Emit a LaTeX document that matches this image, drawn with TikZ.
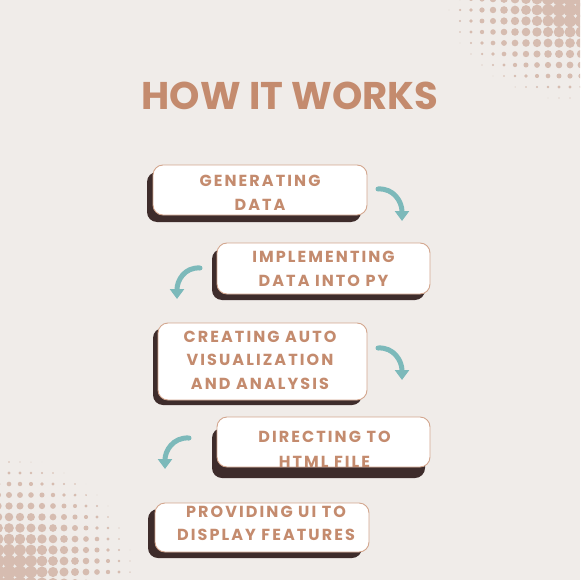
\documentclass[tikz,border=0pt]{standalone}
\usepackage{fontspec}
\setmainfont{Poppins}
\newfontfamily\boxfont[LetterSpace=13]{Poppins}
\usetikzlibrary{shadows,arrows.meta}
\definecolor{bgc}{HTML}{F0ECE9}
\definecolor{dotc}{HTML}{D6BCB0}
\definecolor{txtc}{HTML}{C48B6E}
\definecolor{boxline}{HTML}{D3A68E}
\definecolor{shadowc}{HTML}{3E2C2B}
\definecolor{arrowc}{HTML}{7CB9BA}
\tikzset{
  boxsty/.style 2 args={draw=boxline, line width=0.9pt, fill=white, rounded corners=10pt, inner sep=0pt,
    general shadow={shadow xshift=#1, shadow yshift=#2, fill=shadowc, draw=none}},
  txtsty/.style={text=txtc, font=\boxfont\bfseries\fontsize{16}{23.5}\selectfont, align=center, inner sep=0pt},
  titlesty/.style={text=txtc, font=\bfseries\fontsize{38.6}{42}\selectfont, inner sep=0pt},
  flowarrow/.style={draw=arrowc, line width=5pt, line cap=round, -{Triangle[width=14pt,length=10pt]}}
}
\begin{document}
\begin{tikzpicture}[x=1pt,y=-1pt]
\useasboundingbox (0,0) rectangle (580,580);
\fill[bgc] (0,0) rectangle (580,580);
\begin{scope}
\clip (0,0) rectangle (580,580);
% top-right halftone
\foreach \i in {-1,...,13}{
  \foreach \j in {-1,...,13}{
    \pgfmathsetmacro\tt{1-sqrt(((\i*11+10)/10)^2+(1.3*(\j*11+10)/10)^2)/13.5}
    \ifdim\tt pt>0.01pt
      \pgfmathsetmacro\rr{7.5*(\tt)^0.8}
      \fill[dotc] (570-\i*11,10+\j*11) circle[radius=\rr pt];
    \fi
  }
}
% bottom-left halftone
\foreach \i in {-1,...,13}{
  \foreach \j in {-1,...,13}{
    \pgfmathsetmacro\tt{1-sqrt(((\i*11+9)/10)^2+(1.1*(\j*11+8)/10)^2)/13.8}
    \ifdim\tt pt>0.01pt
      \pgfmathsetmacro\rr{7.5*(\tt)^0.8}
      \fill[dotc] (9+\i*11,572-\j*11) circle[radius=\rr pt];
    \fi
  }
}
\end{scope}

\node[titlesty] (title) at (290,96) {HOW IT WORKS};

\node[boxsty={-6pt}{-7pt}, minimum width=214pt, minimum height=50pt] (b1) at (260,190) {};
\node[boxsty={-5pt}{-6pt}, minimum width=213pt, minimum height=51pt] (b2) at (323.5,268.5) {};
\node[boxsty={-5pt}{-5pt}, minimum width=209pt, minimum height=77pt] (b3) at (262.5,361.5) {};
\node[boxsty={-5pt}{-11pt}, minimum width=213pt, minimum height=50pt] (b4) at (323.5,442) {};
\node[boxsty={-7pt}{-6pt}, minimum width=214pt, minimum height=49pt] (b5) at (262,527.5) {};

\node[txtsty] (t1) at (260,193) {GENERATING\\DATA};
\node[txtsty] (t2) at (323.5,269) {IMPLEMENTING\\DATA INTO PY};
\node[txtsty] (t3) at (260,360) {CREATING AUTO\\VISUALIZATION\\AND ANALYSIS};
\begin{scope}
\clip[rounded corners=10pt] (b4.south west) rectangle (b4.north east);
\node[txtsty, text depth=0pt] (t4) at (324.5,449.5) {DIRECTING TO\\[1.5pt]HTML FILE};
\end{scope}
\node[txtsty] (t5) at (266,523.5) {PROVIDING UI TO\\DISPLAY FEATURES};

\coordinate (a1s) at (378,189); \coordinate (a1e) at (402,221);
\coordinate (a2s) at (200,268); \coordinate (a2e) at (177,299);
\coordinate (a3s) at (378,348); \coordinate (a3e) at (402,380);
\coordinate (a4s) at (189,438); \coordinate (a4e) at (165,469);
\draw[flowarrow] (a1s) .. controls (394,188) and (402,202) .. (a1e);
\draw[flowarrow] (a2s) .. controls (184,267) and (177,281) .. (a2e);
\draw[flowarrow] (a3s) .. controls (394,347) and (402,361) .. (a3e);
\draw[flowarrow] (a4s) .. controls (173,437) and (165,451) .. (a4e);
\end{tikzpicture}
\end{document}
